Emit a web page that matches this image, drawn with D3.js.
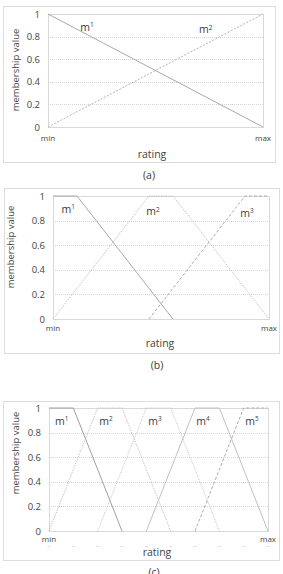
<!DOCTYPE html>
<html>
<head>
<meta charset="utf-8">
<script src="https://cdn.jsdelivr.net/npm/d3@7"></script>
<style>
  body { margin: 0; background: #fff; }
  svg { display: block; font-family: "Open Sans", sans-serif; }
</style>
</head>
<body>
<svg id="chart" width="283" height="574"></svg>
<script>
// shared axis values
const yTicks = [0, 0.2, 0.4, 0.6, 0.8, 1];
const xLabels = ["min", "max"];
// rating measured in ninths of the range (0 = min, 9 = max)
const ratingSteps = [0, 1, 2, 3, 4, 5, 6, 7, 8, 9];

// (a) two membership functions
const namesA = ["1", "2"];
const a_m1 = [[0, 1], [9, 0]];
const a_m2 = [[0, 0], [9, 1]];

// (b) three
const namesB = ["1", "2", "3"];
const b_m1 = [[0, 1], [1, 1], [5, 0]];
const b_m2 = [[0, 0], [4, 1], [5, 1], [9, 0]];
const b_m3 = [[4, 0], [8, 1], [9, 1]];

// (c) five
const namesC = ["1", "2", "3", "4", "5"];
const c_m1 = [[0, 1], [1, 1], [3, 0]];
const c_m2 = [[0, 0], [2, 1], [3, 1], [5, 0]];
const c_m3 = [[2, 0], [4, 1], [5, 1], [7, 0]];
const c_m4 = [[4, 0], [6, 1], [7, 1], [9, 0]];
const c_m5 = [[6, 0], [8, 1], [9, 1]];

// label anchor points, in data units
const labelsA = [[1.63, 0.88], [6.6, 0.86]];
const labelsB = [[0.63, 0.89], [4.17, 0.87], [8.08, 0.86]];
const labelsC = [[0.52, 0.89], [2.34, 0.89], [4.36, 0.89], [6.33, 0.89], [8.34, 0.89]];

// line styles per curve
const styleSolid = { stroke: "#a8a8a8", dash: null };
const styleDot = { stroke: "#bcbcbc", dash: "1.2,1.2" };
const styleDash = { stroke: "#acacac", dash: "3,2" };
const styleDotLight = { stroke: "#c6c6c6", dash: "1.2,1.2" };
const styleSolidLight = { stroke: "#c0c0c0", dash: null };

const panels = [
  { frame: [3, 6, 275, 162], plot: [48, 14, 263, 127], title: [15, 70],
    minY: 141, ratingY: 158, caption: "(a)", capY: 179, cx: 152,
    series: [a_m1, a_m2], names: namesA, labels: labelsA,
    styles: [styleSolid, { stroke: "#b4b4b4", dash: "2,1.5" }] },
  { frame: [4, 188, 279, 353], plot: [53, 196, 269, 319], title: [10, 247],
    minY: 331, ratingY: 347, caption: "(b)", capY: 369, cx: 160,
    series: [b_m1, b_m2, b_m3], names: namesB, labels: labelsB,
    styles: [styleSolid, styleDot, styleDash] },
  { frame: [3, 401, 279, 560], plot: [49, 408, 268, 531], title: [15, 453],
    minY: 542, ratingY: 556, caption: "(c)", capY: 576, cx: 157, ticks: true,
    series: [c_m1, c_m2, c_m3, c_m4, c_m5], names: namesC, labels: labelsC,
    styles: [{ stroke: "#a0a0a0", dash: null }, styleDot, styleDotLight, styleSolidLight, styleDash] }
];

const svg = d3.select("#chart");

panels.forEach(p => {
  const g = svg.append("g");
  const [l, t, r, b] = p.plot;
  const x = d3.scaleLinear().domain([0, 9]).range([l, r]);
  const y = d3.scaleLinear().domain([0, 1]).range([b, t]);

  // outer frame
  g.append("rect")
    .attr("x", p.frame[0] + 0.5).attr("y", p.frame[1] + 0.5)
    .attr("width", p.frame[2] - p.frame[0]).attr("height", p.frame[3] - p.frame[1])
    .attr("fill", "none").attr("stroke", "#dcdcdc");

  // grid lines
  g.selectAll(".grid").data(yTicks.slice(1, -1)).join("line")
    .attr("x1", l).attr("x2", r)
    .attr("y1", d => Math.round(y(d)) + 0.5).attr("y2", d => Math.round(y(d)) + 0.5)
    .attr("stroke", "#d6d6d6").attr("stroke-dasharray", "1,1");

  // plot area border
  g.append("rect")
    .attr("x", l + 0.5).attr("y", t + 0.5)
    .attr("width", r - l).attr("height", b - t)
    .attr("fill", "none").attr("stroke", "#d9d9d9");

  // y axis labels
  const yAxis = d3.axisLeft(y).tickValues(yTicks).tickSize(0).tickPadding(8)
    .tickFormat(d => d3.format("")(+d.toFixed(1)));
  const ya = g.append("g").attr("transform", `translate(${l},0)`).call(yAxis);
  ya.select(".domain").remove();
  ya.selectAll("text").attr("font-size", 9.5).attr("fill", "#444")
    .attr("font-family", "Open Sans, sans-serif");

  // x axis: min / max
  g.selectAll(".xl").data(xLabels).join("text")
    .attr("x", (d, i) => x(i * 9))
    .attr("y", p.minY)
    .attr("text-anchor", "middle")
    .attr("font-size", 8).attr("fill", "#444")
    .text(d => d);

  // faint tick marks under (c)
  if (p.ticks) {
    g.selectAll(".tk").data(ratingSteps).join("line")
      .attr("x1", d => x(d) - 1.5).attr("x2", d => x(d) + 1.5)
      .attr("y1", p.minY + 4.5).attr("y2", p.minY + 4.5)
      .attr("stroke", "#dddddd");
  }

  g.append("text")
    .attr("x", p.cx).attr("y", p.ratingY)
    .attr("text-anchor", "middle").attr("font-size", 10.5).attr("fill", "#444")
    .text("rating");

  g.append("text")
    .attr("transform", `translate(${p.title[0] + 3.5},${p.title[1]}) rotate(-90)`)
    .attr("text-anchor", "middle").attr("font-size", 9.5).attr("fill", "#444")
    .text("membership value");

  // membership curves
  const line = d3.line().x(d => x(d[0])).y(d => y(d[1]));
  p.series.forEach((s, i) => {
    const st = p.styles[i];
    g.append("path").datum(s)
      .attr("d", line)
      .attr("fill", "none")
      .attr("stroke", st.stroke)
      .attr("stroke-width", 1)
      .attr("stroke-dasharray", st.dash);
  });

  // curve names
  p.names.forEach((n, i) => {
    const [lx, ly] = p.labels[i];
    const tx = g.append("text")
      .attr("x", x(lx)).attr("y", y(ly) + 3.5)
      .attr("text-anchor", "middle")
      .attr("font-size", 10.5).attr("fill", "#3a3a3a");
    tx.append("tspan").text("m");
    tx.append("tspan").attr("font-size", 6.5).attr("dy", -3.8).text(n);
  });

  // caption
  svg.append("text")
    .attr("x", p.cx - 3).attr("y", p.capY)
    .attr("text-anchor", "middle").attr("font-size", 10.5).attr("fill", "#3a3a3a")
    .text(p.caption);
});
</script>
</body>
</html>
